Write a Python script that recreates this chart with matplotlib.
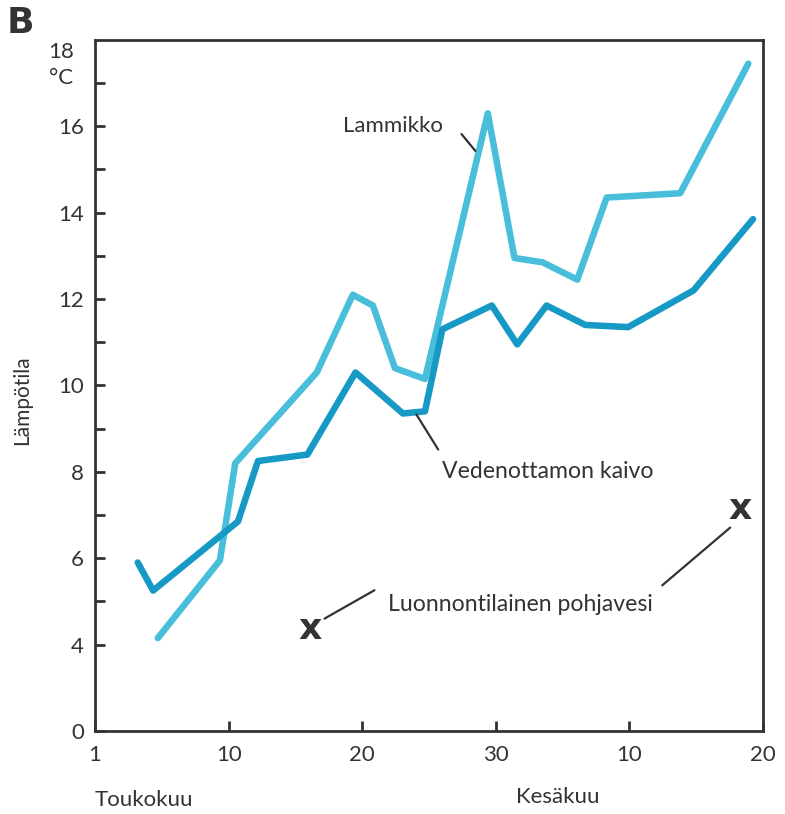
import matplotlib.pyplot as plt
from matplotlib.ticker import FixedLocator

plt.rcParams['font.family'] = ['Lato', 'DejaVu Sans']

# Päivät kaavion asteikolla (0 = 1. toukokuuta, 50 = 20. kesäkuuta)
kaivo_x = [3.2, 4.35, 10.7, 12.2, 15.9, 19.5, 23.05, 24.7, 26.0, 29.7, 31.6, 33.8, 36.7, 39.9, 44.8, 49.25]
kaivo_y = [5.9, 5.25, 6.85, 8.25, 8.4, 10.3, 9.35, 9.4, 11.3, 11.85, 10.95, 11.85, 11.4, 11.35, 12.2, 13.85]

lammikko_x = [4.7, 9.35, 10.5, 16.6, 19.3, 20.8, 22.45, 24.7, 29.4, 31.4, 33.5, 36.1, 38.3, 43.8, 48.9]
lammikko_y = [4.15, 5.95, 8.2, 10.3, 12.1, 11.85, 10.4, 10.15, 16.3, 12.95, 12.85, 12.45, 14.35, 14.45, 17.45]

pohjavesi_x = [16.1, 48.3]
pohjavesi_y = [4.35, 7.15]

x_ticks = [0, 10, 20, 30, 40, 50]
x_labels = ['1', '10', '20', '30', '10', '20']
# akseli on katkaistu: nolla piirretään kohtaan 2
y_ticks = [2, 4, 6, 8, 10, 12, 14, 16]
y_labels = ['0', '4', '6', '8', '10', '12', '14', '16']

fig = plt.figure(figsize=(7.85, 8.14), dpi=100)
ax = fig.add_axes([0.121, 0.102, 0.851, 0.849])

ax.plot(lammikko_x, lammikko_y, color='#48bedb', lw=4.7,
        solid_capstyle='round', solid_joinstyle='round')
ax.plot(kaivo_x, kaivo_y, color='#1799c6', lw=4.7,
        solid_capstyle='round', solid_joinstyle='round')

for px, py in zip(pohjavesi_x, pohjavesi_y):
    ax.text(px, py, 'x', fontsize=26, fontweight='bold', color='#333333',
            ha='center', va='center', family='DejaVu Sans')

ax.set_xlim(0, 50)
ax.set_ylim(2, 18)
ax.set_xticks(x_ticks, x_labels)
ax.set_yticks(y_ticks, y_labels)
ax.yaxis.set_minor_locator(FixedLocator([5, 7, 9, 11, 13, 15, 17]))
ax.tick_params(axis='both', which='both', direction='in', color='#333333',
               width=2, labelsize=16, labelcolor='#333333')
ax.tick_params(axis='both', which='major', length=7, pad=10)
ax.tick_params(axis='y', which='minor', length=7)
ax.tick_params(axis='y', which='major', pad=8)
for s in ax.spines.values():
    s.set_linewidth(2)
    s.set_color('#333333')

# 18 ja yksikkö akselin yläpäähän
ax.text(-0.032, 0.982, '18', transform=ax.transAxes, fontsize=16,
        color='#333333', ha='right', va='center')
ax.text(-0.032, 0.945, '°C', transform=ax.transAxes, fontsize=16,
        color='#333333', ha='right', va='center')

fig.text(0.028, 0.508, 'Lämpötila', rotation=90, fontsize=15,
         color='#333333', ha='center', va='center')
fig.text(0.121, 0.017, 'Toukokuu', fontsize=16, color='#333333', ha='left', va='center')
fig.text(0.711, 0.021, 'Kesäkuu', fontsize=16, color='#333333', ha='center', va='center')
fig.text(0.008, 0.972, 'B', fontsize=26, fontweight='bold', color='#333333',
         ha='left', va='center', family='DejaVu Sans')

# nimiöt ja viivat
line_kw = dict(arrowstyle='-', color='#333333', lw=1.6)
ax.text(22.3, 16.0, 'Lammikko', fontsize=16, color='#333333', ha='center', va='center')
ax.annotate('', xy=(28.6, 15.38), xytext=(27.3, 15.87), arrowprops=line_kw)

ax.text(26.0, 8.0, 'Vedenottamon kaivo', fontsize=16.6, color='#333333', ha='left', va='center')
ax.annotate('', xy=(23.95, 9.38), xytext=(25.8, 8.46), arrowprops=line_kw)

ax.text(21.9, 4.92, 'Luonnontilainen pohjavesi', fontsize=16.6, color='#333333',
        ha='left', va='center')
ax.annotate('', xy=(17.0, 4.57), xytext=(21.1, 5.29), arrowprops=line_kw)
ax.annotate('', xy=(47.7, 6.75), xytext=(42.3, 5.33), arrowprops=line_kw)

fig.savefig('out.png', dpi=100)
